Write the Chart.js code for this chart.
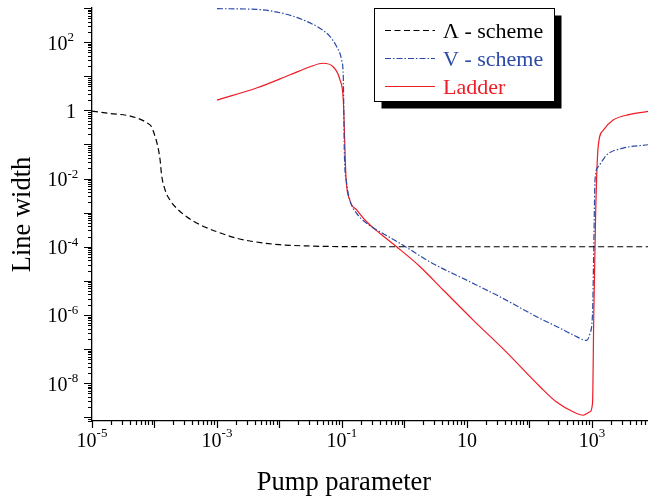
<!DOCTYPE html>
<html>
<head>
<meta charset="utf-8">
<script src="https://cdn.jsdelivr.net/npm/chart.js@4.4.1/dist/chart.umd.min.js"></script>
<style>
html,body{margin:0;padding:0;background:#fff;}
#wrap{width:648px;height:497px;position:relative;}
</style>
</head>
<body>
<div id="wrap"><canvas id="c"></canvas></div>
<script>
// ---- data ----
const lambdaX = [1e-5, 1.95e-5, 4.1e-5, 6.6e-5, 7.6e-5, 9.0e-5, 9.8e-5, 1.1e-4, 1.23e-4, 1.3e-4, 1.48e-4, 1.78e-4, 2.26e-4, 3.27e-4, 5.4e-4, 1e-3, 2.07e-3, 5e-3, 1e-2, 3.16e-2, 0.1, 1, 7900];
const lambdaY = [0.95, 0.81, 0.68, 0.50, 0.425, 0.33, 0.216, 0.107, 0.035, 0.0126, 4.6e-3, 2.3e-3, 1.35e-3, 7.6e-4, 4.4e-4, 2.75e-4, 1.78e-4, 1.32e-4, 1.15e-4, 1.05e-4, 1.01e-4, 1e-4, 1e-4];

const vX = [1e-3, 4.3e-3, 1.15e-2, 2.4e-2, 4.47e-2, 6.46e-2, 8.2e-2, 9.9e-2, 0.105, 0.107, 0.109, 0.119, 0.134, 0.172, 0.248, 0.407, 0.85, 2.88, 9.9, 33.9, 148, 309, 501, 822, 933, 1023, 1072, 1122, 1259, 1718, 3162, 7900];
const vY = [955, 912, 692, 447, 251, 145, 74, 29.5, 9.8, 1.05, 0.069, 7.2e-3, 2.3e-3, 9.5e-4, 4.9e-4, 2.75e-4, 1.26e-4, 3.2e-5, 1.05e-5, 3.4e-6, 7.9e-7, 4.1e-7, 2.6e-7, 1.8e-7, 2.9e-7, 1.1e-6, 1e-4, 9.1e-3, 2.2e-2, 4.9e-2, 7.8e-2, 9.8e-2];

const ladderX = [1e-3, 4.3e-3, 1.48e-2, 3.1e-2, 5.0e-2, 7.2e-2, 9.3e-2, 0.105, 0.116, 0.134, 0.172, 0.248, 0.407, 0.75, 1.78, 4.17, 12.6, 39.8, 148, 272, 501, 724, 933, 1023, 1072, 1148, 1259, 1514, 2188, 4074, 7900];
const ladderY = [2.0, 4.5, 11, 19, 24, 19, 7.8, 2.0, 1.1e-2, 2.3e-3, 1.2e-3, 5.4e-4, 2.45e-4, 1e-4, 2.6e-5, 5.4e-6, 7.1e-7, 9.3e-8, 7.9e-9, 2.8e-9, 1.45e-9, 1.15e-9, 1.45e-9, 2.6e-9, 1.1e-6, 9.8e-4, 8.5e-2, 0.26, 0.52, 0.76, 0.93];

const seriesLabels = ['\u039B - scheme', 'V - scheme', 'Ladder'];

const xTickValues = [1e-5, 1e-3, 1e-1, 10, 1e3];
const xTickBase   = ['10', '10', '10', '10', '10'];
const xTickExp    = ['-5', '-3', '-1', '', '3'];

const yTickValues = [1e2, 1, 1e-2, 1e-4, 1e-6, 1e-8];
const yTickBase   = ['10', '1', '10', '10', '10', '10'];
const yTickExp    = ['2', '', '-2', '-4', '-6', '-8'];

const xTitle = 'Pump parameter';
const yTitle = 'Line width';

// ---- styles ----
const BLUE = '#2c4aa6';
const RED = '#ee1c25';
const SERIF = '"Liberation Serif", "Times New Roman", serif';

function pts(xs, ys){ return xs.map((x,i)=>({x:x, y:ys[i]})); }

const decor = {
  id: 'decor',
  afterDraw(chart){
    const ctx = chart.ctx, xs = chart.scales.x, ys = chart.scales.y, ca = chart.chartArea;
    ctx.save();
    ctx.strokeStyle = '#000';
    ctx.lineWidth = 1.2;
    // x ticks (outward, downward)
    const xlo = Math.floor(Math.log10(xs.min)), xhi = Math.ceil(Math.log10(xs.max));
    ctx.beginPath();
    for (let d = xlo; d <= xhi; d++){
      for (let m = 1; m <= 9; m++){
        const v = m * Math.pow(10, d);
        if (v < xs.min*0.999 || v > xs.max*1.001) continue;
        const px = Math.round(xs.getPixelForValue(v)) + 0.5;
        const len = m === 1 ? 7 : 4;
        ctx.moveTo(px, ca.bottom); ctx.lineTo(px, ca.bottom + len);
      }
    }
    // y ticks (outward, left)
    const ylo = Math.floor(Math.log10(ys.min)), yhi = Math.ceil(Math.log10(ys.max));
    for (let d = ylo; d <= yhi; d++){
      for (let m = 1; m <= 9; m++){
        const v = m * Math.pow(10, d);
        if (v < ys.min*0.999 || v > ys.max*1.001) continue;
        const py = Math.round(ys.getPixelForValue(v)) + 0.5;
        const len = m === 1 ? 8 : 4;
        ctx.moveTo(ca.left - len, py); ctx.lineTo(ca.left, py);
      }
    }
    ctx.stroke();

    // tick labels
    ctx.fillStyle = '#000';
    ctx.textBaseline = 'alphabetic';
    const bf = '20px ' + SERIF, ef = '13px ' + SERIF;
    xTickValues.forEach((v,i)=>{
      const px = xs.getPixelForValue(v);
      ctx.font = bf; const wb = ctx.measureText(xTickBase[i]).width;
      ctx.font = ef; const we = xTickExp[i] ? ctx.measureText(xTickExp[i]).width : 0;
      const x0 = px - (wb + we)/2;
      ctx.font = bf; ctx.textAlign = 'left'; ctx.fillText(xTickBase[i], x0, ca.bottom + 26);
      if (xTickExp[i]) { ctx.font = ef; ctx.fillText(xTickExp[i], x0 + wb, ca.bottom + 16); }
    });
    yTickValues.forEach((v,i)=>{
      const py = ys.getPixelForValue(v);
      if (yTickExp[i]) {
        ctx.font = bf; ctx.textAlign = 'right'; ctx.fillText(yTickBase[i], ca.left - 24.5, py + 7.5);
        ctx.font = ef; ctx.textAlign = 'left'; ctx.fillText(yTickExp[i], ca.left - 24.5, py - 1);
      } else {
        ctx.font = bf; ctx.textAlign = 'right'; ctx.fillText(yTickBase[i], ca.left - 16, py + 7.5);
      }
    });

    // axis titles
    ctx.font = '26.5px ' + SERIF;
    ctx.textAlign = 'center';
    ctx.fillText(xTitle, 344, 490);
    ctx.save();
    ctx.translate(30, (ca.top + ca.bottom)/2);
    ctx.rotate(-Math.PI/2);
    ctx.fillText(yTitle, 0, 0);
    ctx.restore();

    // legend with shadow
    const lx = 374.5, ly = 8.5, lw = 180, lh = 93;
    ctx.fillStyle = '#000';
    ctx.fillRect(lx + 7, ly + 7, lw, lh);
    ctx.fillStyle = '#fff';
    ctx.fillRect(lx, ly, lw, lh);
    ctx.lineWidth = 1;
    ctx.strokeStyle = '#000';
    ctx.strokeRect(lx, ly, lw, lh);
    ctx.font = '22px ' + SERIF;
    ctx.textAlign = 'left';
    chart.data.datasets.forEach((ds, i)=>{
      const yy = 30 + i*28;
      ctx.beginPath();
      ctx.strokeStyle = ds.borderColor;
      ctx.lineWidth = ds.borderWidth;
      ctx.setLineDash(ds.borderDash || []);
      ctx.moveTo(385, yy + 0.5); ctx.lineTo(435, yy + 0.5);
      ctx.stroke();
      ctx.setLineDash([]);
      ctx.fillStyle = ds.borderColor;
      ctx.fillText(ds.label, 443, yy + 7.5);
    });
    ctx.restore();
  }
};

new Chart(document.getElementById('c'), {
  type: 'line',
  data: {
    datasets: [
      { label: seriesLabels[0], data: pts(lambdaX, lambdaY), borderColor: '#000', borderWidth: 1.2, borderDash: [6, 3.5] },
      { label: seriesLabels[1], data: pts(vX, vY), borderColor: BLUE, borderWidth: 1.2, borderDash: [6, 2, 1.5, 2] },
      { label: seriesLabels[2], data: pts(ladderX, ladderY), borderColor: RED, borderWidth: 1.2 }
    ]
  },
  options: {
    responsive: true,
    maintainAspectRatio: false,
    animation: false,
    devicePixelRatio: 1,
    layout: { padding: { top: 8, right: 0, bottom: 0, left: 0 } },
    elements: { point: { radius: 0 }, line: { cubicInterpolationMode: 'monotone', fill: false } },
    plugins: { legend: { display: false }, tooltip: { enabled: false } },
    scales: {
      x: {
        type: 'logarithmic', min: 1e-5, max: 7900,
        ticks: { display: false },
        grid: { display: true, drawOnChartArea: false, drawTicks: false },
        border: { display: true, color: '#000', width: 1.3 },
        afterFit(s){ s.height = 76; }
      },
      y: {
        type: 'logarithmic', min: 7.8e-10, max: 1000,
        ticks: { display: false },
        grid: { display: true, drawOnChartArea: false, drawTicks: false },
        border: { display: true, color: '#000', width: 1.3 },
        afterFit(s){ s.width = 92; }
      }
    }
  },
  plugins: [decor]
});
</script>
</body>
</html>
